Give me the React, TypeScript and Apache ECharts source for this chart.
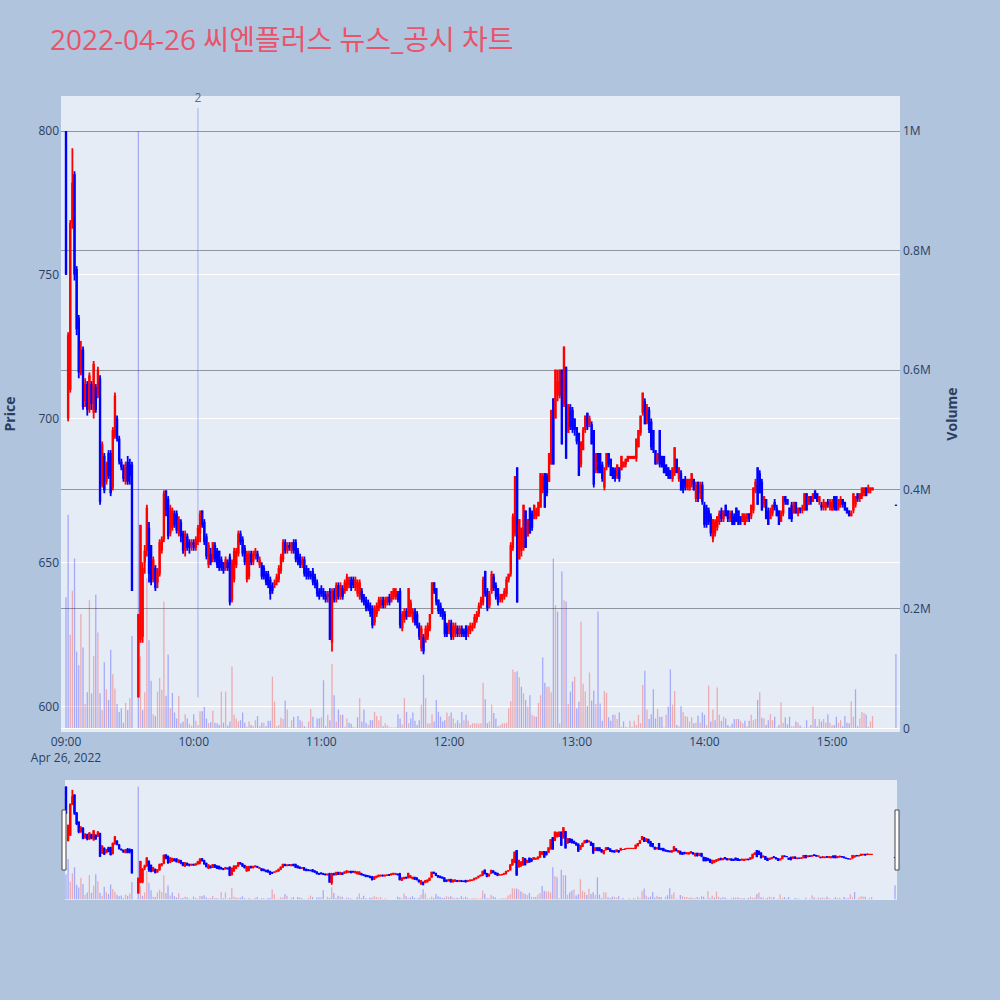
import React, { useEffect, useRef } from 'react';
import * as echarts from 'echarts';

// One-minute candles per trading hour: [open, close, low, high]; null = no trade that minute
type Candle = [number, number, number, number] | null;

const candles0900: Candle[] = [
  [800, 750, 750, 800], [700, 729, 699, 730], [710, 768, 709, 769], [768, 782, 766, 794], [785, 750, 748, 786],
  [752, 731, 729, 753], [735, 716, 714, 736], [716, 724, 715, 727], [724, 704, 703, 725], [706, 712, 704, 714],
  [712, 703, 701, 713], [703, 715, 702, 716], [712, 705, 703, 713], [702, 719, 700, 720], [711, 703, 702, 712],
  [708, 717, 707, 718], [714, 671, 670, 715], [677, 691, 676, 692], [687, 675, 674, 688], [678, 684, 677, 685],
  [688, 680, 679, 689], [688, 674, 673, 689], [676, 696, 675, 697], [694, 708, 693, 709], [700, 693, 692, 701],
  [693, 685, 684, 694], [685, 683, 682, 686], [683, 679, 678, 684], [678, 684, 677, 685], [685, 678, 677, 687],
  [684, 680, 677, 686], [684, 640, 640, 685], null, null, [603, 632, 603, 632],
  [623, 663, 622, 663], [624, 648, 622, 650], [650, 654, 646, 656], [654, 669, 652, 670], [662, 646, 643, 664],
  [656, 643, 642, 656], [644, 651, 643, 652], [648, 641, 640, 649], [643, 647, 641, 648], [646, 657, 645, 658],
  [654, 658, 653, 659], [658, 674, 657, 675], [675, 668, 666, 675], [672, 659, 658, 673], [660, 669, 659, 670],
  [662, 668, 661, 669], [667, 663, 662, 668], [667, 661, 660, 668], [660, 665, 659, 666], [664, 659, 657, 665],
  [660, 654, 653, 661], [654, 660, 652, 661], [659, 655, 654, 660], [657, 655, 653, 658], [656, 657, 654, 658],
];

const candles1000: Candle[] = [
  [657, 655, 654, 658], [655, 658, 654, 659], [657, 662, 656, 663], [660, 667, 657, 668], [668, 663, 662, 668],
  [664, 657, 656, 665], [659, 652, 651, 660], [649, 656, 648, 657], [653, 650, 649, 655], [651, 657, 650, 657],
  [656, 651, 650, 657], [654, 649, 648, 655], [654, 648, 647, 654], [651, 648, 647, 652], [650, 647, 646, 650],
  [648, 651, 647, 652], [650, 648, 647, 651], [652, 636, 635, 653], [637, 650, 636, 651], [644, 654, 643, 655],
  [649, 654, 648, 655], [653, 660, 652, 661], [660, 657, 656, 661], [658, 653, 652, 659], [655, 650, 649, 656],
  [644, 653, 643, 654], [645, 653, 644, 654], [653, 650, 649, 654], [650, 653, 649, 654], [652, 654, 651, 655],
  [653, 651, 650, 654], [649, 651, 648, 652], [649, 645, 644, 650], [648, 645, 644, 649], [646, 643, 642, 647],
  [646, 642, 641, 647], [644, 639, 637, 645], [642, 640, 639, 643], [642, 643, 641, 644], [643, 645, 642, 646],
  [644, 648, 643, 649], [647, 652, 646, 653], [651, 657, 650, 658], [657, 654, 653, 658], [654, 656, 653, 657],
  [656, 655, 654, 657], [654, 657, 653, 657], [657, 654, 653, 658], [657, 651, 650, 658], [654, 650, 649, 655],
  [652, 649, 648, 653], [649, 651, 648, 652], [651, 646, 645, 652], [648, 645, 644, 649], [647, 645, 644, 648],
  [646, 645, 644, 647], [647, 643, 642, 648], [645, 642, 641, 646], [643, 639, 638, 644], [640, 638, 637, 641],
];

const candles1100: Candle[] = [
  [641, 639, 638, 642], [640, 638, 637, 641], [639, 637, 636, 640], [638, 639, 636, 640], [640, 623, 623, 641],
  [622, 640, 619, 641], [640, 637, 636, 641], [637, 642, 636, 643], [642, 638, 637, 643], [638, 642, 637, 643],
  [641, 638, 637, 642], [640, 643, 639, 644], [641, 645, 640, 646], [642, 644, 641, 645], [644, 641, 640, 645],
  [644, 642, 641, 645], [641, 644, 640, 645], [639, 643, 638, 644], [638, 643, 637, 644], [640, 637, 636, 641],
  [638, 636, 635, 639], [637, 634, 633, 638], [636, 634, 633, 637], [635, 632, 631, 636], [634, 628, 627, 635],
  [629, 634, 628, 635], [632, 635, 631, 636], [634, 637, 633, 638], [635, 637, 634, 638], [637, 635, 634, 638],
  [635, 637, 634, 638], [636, 638, 635, 638], [638, 636, 635, 639], [637, 640, 636, 640], [638, 641, 637, 641],
  [638, 640, 637, 641], [639, 637, 636, 640], [640, 628, 627, 641], [627, 632, 626, 633], [630, 633, 629, 634],
  [633, 631, 630, 634], [631, 641, 631, 641], [632, 636, 631, 637], [630, 633, 629, 634], [633, 629, 628, 634],
  [632, 628, 627, 633], [628, 624, 623, 629], [620, 627, 619, 628], [624, 619, 618, 625], [623, 627, 622, 628],
  [624, 628, 623, 629], [627, 632, 626, 632], [632, 643, 632, 643], [643, 640, 639, 643], [641, 636, 635, 641],
  [637, 633, 632, 637], [635, 632, 631, 636], [634, 631, 630, 634], [632, 625, 624, 633], [628, 625, 624, 629],
];

const candles1200: Candle[] = [
  [626, 629, 625, 630], [629, 624, 623, 630], [624, 628, 623, 629], [625, 628, 624, 629], [627, 625, 624, 628],
  [625, 627, 624, 628], [627, 625, 624, 628], [626, 625, 624, 627], [628, 624, 623, 628], [625, 627, 624, 628],
  [626, 628, 625, 629], [627, 628, 626, 629], [628, 631, 627, 632], [630, 632, 629, 633], [632, 635, 631, 636],
  [635, 637, 634, 638], [636, 644, 635, 645], [647, 639, 638, 647], [640, 634, 633, 641], [635, 639, 634, 640],
  [640, 646, 639, 647], [645, 641, 640, 646], [642, 638, 637, 643], [641, 636, 635, 641], [637, 638, 636, 639],
  [637, 639, 636, 639], [638, 640, 637, 641], [639, 644, 638, 645], [644, 646, 643, 646], [646, 656, 645, 657],
  [655, 666, 654, 667], [660, 680, 659, 680], [683, 636, 636, 683], [651, 665, 651, 665], [654, 662, 652, 662],
  [655, 670, 654, 670], [668, 655, 655, 668], [659, 665, 659, 665], [669, 660, 660, 669], [667, 662, 661, 668],
  [665, 670, 665, 670], [666, 668, 665, 669], [666, 671, 666, 671], [669, 681, 669, 681], [675, 680, 674, 681],
  [681, 669, 669, 681], [680, 674, 673, 681], [678, 688, 678, 688], [684, 703, 684, 703], [707, 684, 684, 707],
  [700, 717, 700, 717], [708, 713, 706, 717], [708, 717, 707, 717], [717, 691, 691, 717], [705, 725, 704, 725],
  [718, 686, 686, 718], [695, 705, 695, 705], [704, 697, 696, 705], [703, 696, 695, 704], [700, 696, 694, 700],
];

const candles1300: Candle[] = [
  [697, 692, 691, 697], [695, 680, 680, 695], [684, 692, 683, 692], [689, 696, 689, 697], [696, 701, 695, 701],
  [702, 697, 696, 702], [698, 700, 697, 701], [698, 691, 691, 699], [696, 677, 676, 696], [682, 688, 681, 688],
  [688, 682, 681, 688], [688, 681, 681, 688], [684, 679, 678, 685], [676, 683, 675, 683], [683, 688, 682, 688],
  [688, 684, 683, 688], [686, 680, 680, 686], [683, 679, 679, 683], [682, 679, 678, 683], [680, 684, 679, 684],
  [683, 679, 678, 683], [682, 687, 682, 687], [683, 685, 683, 685], [684, 686, 683, 686], [685, 687, 685, 687],
  [686, 687, 686, 687], [686, 687, 686, 687], [686, 687, 686, 687], [686, 693, 685, 693], [690, 696, 690, 696],
  [695, 701, 694, 701], [702, 709, 701, 709], [706, 698, 698, 707], [699, 704, 698, 705], [703, 696, 695, 704],
  [699, 690, 689, 700], [696, 689, 688, 696], [689, 684, 684, 689], [685, 688, 684, 688], [696, 684, 683, 696],
  [687, 683, 683, 687], [687, 681, 681, 687], [684, 681, 680, 684], [683, 680, 679, 683], [682, 679, 679, 682],
  [679, 683, 678, 683], [681, 690, 680, 690], [686, 681, 681, 686], [679, 683, 678, 683], [681, 675, 675, 682],
  [679, 675, 674, 679], [679, 676, 675, 680], [676, 679, 675, 679], [675, 679, 675, 679], [677, 681, 676, 681],
  [679, 675, 675, 679], [672, 677, 671, 678], [678, 672, 671, 678], [674, 677, 672, 678], [677, 671, 670, 678],
];

const candles1400: Candle[] = [
  [670, 663, 662, 671], [669, 663, 662, 670], [668, 664, 663, 669], [666, 660, 659, 667], [658, 665, 657, 665],
  [660, 664, 659, 665], [662, 666, 661, 666], [664, 667, 663, 668], [668, 665, 664, 669], [665, 668, 664, 668],
  [670, 666, 666, 670], [668, 665, 664, 668], [665, 667, 664, 668], [667, 664, 663, 668], [666, 663, 663, 667],
  [669, 664, 664, 669], [668, 663, 663, 668], [666, 664, 663, 666], [664, 667, 664, 667], [663, 666, 663, 667],
  [665, 667, 664, 667], [667, 665, 664, 667], [666, 670, 665, 670], [668, 676, 667, 676], [675, 678, 674, 679],
  [683, 670, 670, 683], [681, 674, 674, 682], [678, 668, 668, 679], [670, 673, 669, 673], [672, 665, 665, 672],
  [668, 663, 663, 669], [665, 668, 665, 669], [667, 670, 666, 670], [671, 669, 668, 672], [669, 666, 666, 670],
  [668, 663, 663, 668], [664, 667, 664, 668], [667, 673, 666, 673], [673, 671, 670, 673], [672, 670, 670, 672],
  [669, 665, 665, 669], [670, 665, 664, 671], [667, 671, 667, 671], [671, 667, 667, 671], [667, 669, 666, 669],
  [669, 668, 667, 669], [668, 669, 667, 670], [668, 674, 668, 674], [674, 668, 668, 674], [670, 673, 670, 673],
  [673, 671, 670, 673], [671, 674, 671, 674], [675, 672, 672, 675], [674, 671, 671, 674], [671, 673, 670, 673],
  [670, 669, 668, 671], [669, 671, 668, 672], [669, 671, 668, 671], [671, 670, 669, 672], [669, 671, 668, 672],
];

const candles1500: Candle[] = [
  [668, 671, 668, 672], [673, 669, 668, 673], [673, 668, 668, 673], [669, 672, 668, 672], [670, 672, 669, 673],
  [672, 670, 669, 672], [671, 668, 668, 671], [669, 667, 667, 669], [668, 666, 666, 668], [666, 667, 666, 668],
  [668, 674, 667, 674], [670, 673, 669, 673], [674, 672, 671, 674], [672, 674, 671, 674], [673, 676, 672, 676],
  [674, 676, 673, 676], [676, 673, 673, 676], [674, 676, 674, 677], [675, 676, 674, 676], [675, 676, 675, 676],
  null, null, null, null, null, null, null, null, null, null,
  [670, 670, 670, 670],
];

// Traded volume per minute, in thousand shares
const volume0900: (number | null)[] = [
  219, 357, 156, 230, 284, 128, 105, 191, 135, 40, 60, 214, 58, 121, 223, 160, 58, 30, 110, 65,
  47, 131, 90, 66, 40, 27, 33, 9, 42, 30, 50, 154, null, null, 1000, 120, 30, 60, 251, 147,
  79, 23, 20, 61, 84, 64, 212, 54, 123, 33, 59, 26, 16, 54, 8, 11, 23, 16, 7, 4,
];
const volume1000: (number | null)[] = [
  23, 12, 5, 28, 28, 35, 16, 8, 10, 29, 9, 8, 5, 61, 9, 61, 4, 11, 103, 22,
  16, 11, 13, 26, 9, 2, 11, 5, 3, 13, 20, 3, 9, 9, 3, 12, 12, 86, 44, 3,
  5, 17, 15, 46, 31, 1, 13, 19, 1, 20, 13, 11, 3, 1, 11, 32, 19, 1, 16, 16,
];
const volume1100: (number | null)[] = [
  18, 80, 3, 22, 13, 107, 55, 11, 31, 22, 22, 2, 16, 9, 7, 2, 1, 18, 50, 11,
  31, 9, 5, 13, 13, 27, 20, 13, 20, 3, 8, 4, 1, 1, 1, 1, 23, 16, 6, 50,
  27, 8, 16, 26, 12, 5, 13, 39, 89, 50, 8, 8, 23, 11, 47, 27, 19, 11, 13, 26,
];
const volume1200: (number | null)[] = [
  20, 26, 16, 8, 13, 8, 27, 13, 22, 12, 5, 8, 8, 8, 7, 8, 76, 48, 8, 11,
  39, 25, 16, 3, 5, 8, 8, 9, 33, 45, 98, 94, 95, 85, 69, 58, 47, 36, 55, 22,
  20, 19, 42, 55, 118, 76, 69, 69, 60, 284, 206, 195, 8, 262, 214, 212, 40, 61, 78, 86,
];
const volume1300: (number | null)[] = [
  33, 44, 178, 74, 61, 37, 93, 46, 63, 40, 195, 41, 12, 62, 59, 18, 12, 22, 22, 15,
  26, 2, 11, 2, 1, 12, 2, 12, 5, 22, 8, 72, 96, 31, 15, 23, 65, 16, 32, 19,
  19, 1, 22, 36, 98, 39, 62, 5, 3, 37, 27, 20, 19, 11, 18, 8, 9, 21, 9, 26,
];
const volume1400: (number | null)[] = [
  22, 5, 71, 11, 31, 13, 68, 22, 12, 19, 16, 5, 3, 7, 15, 15, 15, 12, 8, 12,
  3, 12, 22, 13, 15, 47, 60, 17, 16, 5, 13, 23, 13, 19, 1, 5, 43, 9, 18, 6,
  19, 3, 3, 11, 9, 4, 1, 1, 13, 1, 5, 36, 15, 3, 15, 11, 15, 9, 23, 9,
];
const volume1500: (number | null)[] = [
  4, 5, 19, 9, 13, 3, 20, 9, 8, 45, 19, 65, 3, 16, 27, 25, 22, 2, 11, 20,
  null, null, null, null, null, null, null, null, null, null,
  124,
];

const candleHours = [candles0900, candles1000, candles1100, candles1200, candles1300, candles1400, candles1500];
const volumeHours = [volume0900, volume1000, volume1100, volume1200, volume1300, volume1400, volume1500];

// Axis ticks: minutes after 09:00, price in won, volume in thousand shares
const hourTicks = [0, 60, 120, 180, 240, 300, 360];
const priceTicks = [600, 650, 700, 750, 800];
const volumeTicks = [0, 200, 400, 600, 800, 1000];
const sessionDateLabel = 'Apr 26, 2022';
const chartTitle = '2022-04-26 씨엔플러스 뉴스_공시 차트';

// News/disclosure marker: minute after 09:00, its label, and the price span of its stem
const newsMinutes = [62];
const newsLabels = ['2'];
const newsStemPrices = [603, 808];

const UP = '#FF0000';
const DOWN = '#0000FF';
const VOL_UP = 'rgba(255,0,0,0.28)';
const VOL_DOWN = 'rgba(0,0,255,0.28)';
const FONT = '"Open Sans", "Noto Sans CJK KR", sans-serif';
const TICK_COLOR = '#2a3f5f';

const pad = (n: number) => String(n).padStart(2, '0');

function buildSeriesData() {
  // candle rows: [minute, open, close, low, high, up(1)/down(0) versus previous close]
  const candleData: number[][] = [];
  const volumeData: any[] = [];
  let prevClose: number | null = null;
  candleHours.forEach((rows, h) => {
    rows.forEach((row, i) => {
      const minute = h * 60 + i;
      const vol = volumeHours[h][i];
      if (!row) return;
      const [o, c, l, hi] = row;
      const up = prevClose === null ? c >= o : c >= prevClose;
      candleData.push([minute, o, c, l, hi, up ? 1 : 0]);
      if (vol != null) {
        volumeData.push({ value: [minute, vol], itemStyle: { color: up ? VOL_UP : VOL_DOWN } });
      }
      prevClose = c;
    });
  });
  return { candleData, volumeData };
}

// Candle drawn as a wick from low to high plus a slightly wider body from open to close
function renderCandle(bodyWidth: number, wickWidth: number) {
  return (_params: any, api: any) => {
    const x = api.value(0);
    const o = api.value(1);
    const c = api.value(2);
    const l = api.value(3);
    const h = api.value(4);
    const color = c > o ? UP : c < o ? DOWN : api.value(5) ? UP : DOWN;
    const pLow = api.coord([x, l]);
    const pHigh = api.coord([x, h]);
    const pOpen = api.coord([x, o]);
    const pClose = api.coord([x, c]);
    const top = Math.min(pOpen[1], pClose[1]);
    const bodyH = Math.max(Math.abs(pOpen[1] - pClose[1]), 1);
    return {
      type: 'group',
      children: [
        {
          type: 'rect',
          shape: { x: pLow[0] - wickWidth / 2, y: pHigh[1], width: wickWidth, height: Math.max(pLow[1] - pHigh[1], 1) },
          style: { fill: color },
        },
        {
          type: 'rect',
          shape: { x: pOpen[0] - bodyWidth / 2, y: top, width: bodyWidth, height: bodyH },
          style: { fill: color },
        },
      ],
    };
  };
}

export default function App() {
  const ref = useRef<HTMLDivElement>(null);

  useEffect(() => {
    if (!ref.current) return;
    const chart = echarts.init(ref.current, undefined, { renderer: 'svg' });
    const { candleData, volumeData } = buildSeriesData();

    const newsStems: any[] = [];
    const newsTips: any[] = [];
    newsMinutes.forEach((m, i) => {
      if (i > 0) newsStems.push([null, null]);
      newsStems.push([m, newsStemPrices[0]]);
      newsStems.push([m, newsStemPrices[1]]);
      newsTips.push({ value: [m, newsStemPrices[1]], name: newsLabels[i] });
    });

    chart.setOption({
      animation: false,
      backgroundColor: '#B0C4DE',
      title: {
        text: chartTitle,
        left: 50,
        top: 25,
        padding: 0,
        textStyle: { color: '#E9546B', fontSize: 28, fontWeight: 'normal', fontFamily: FONT },
      },
      grid: [
        { left: 61, top: 96, width: 839, height: 636, show: true, backgroundColor: '#E5ECF6', borderWidth: 0, outerBoundsMode: 'none', containLabel: false },
        { left: 65, top: 780, width: 832, height: 120, show: true, backgroundColor: '#E5ECF6', borderWidth: 0, outerBoundsMode: 'none', containLabel: false },
      ],
      xAxis: [
        {
          type: 'value',
          gridIndex: 0,
          min: -2.35,
          max: 391.9,
          axisLine: { show: false },
          axisTick: { show: false, customValues: hourTicks },
          splitLine: { show: false },
          axisLabel: {
            customValues: hourTicks,
            color: TICK_COLOR,
            fontSize: 12,
            fontFamily: FONT,
            margin: 1,
            lineHeight: 16,
            formatter: (v: number) => {
              const t = `${pad(9 + Math.floor(v / 60))}:${pad(v % 60)}`;
              return v === hourTicks[0] ? `${t}\n${sessionDateLabel}` : t;
            },
          },
        },
        {
          type: 'value',
          gridIndex: 1,
          min: -0.47,
          max: 390.94,
          show: false,
        },
      ],
      yAxis: [
        {
          type: 'value',
          gridIndex: 0,
          position: 'left',
          min: 590.96,
          max: 812.17,
          name: 'Price',
          nameLocation: 'middle',
          nameGap: 45,
          nameRotate: 90,
          nameTextStyle: { color: TICK_COLOR, fontSize: 14, fontWeight: 'bold', fontFamily: FONT },
          axisLine: { show: false },
          axisTick: { show: false, customValues: priceTicks },
          axisLabel: { customValues: priceTicks, color: TICK_COLOR, fontSize: 12, fontFamily: FONT, margin: 2 },
          splitLine: { show: true, lineStyle: { color: '#FFFFFF', width: 1 } },
        },
        {
          type: 'value',
          gridIndex: 0,
          position: 'right',
          min: -6.7,
          max: 1058.6,
          name: 'Volume',
          nameLocation: 'middle',
          nameGap: 44,
          nameRotate: 90,
          nameTextStyle: { color: TICK_COLOR, fontSize: 14, fontWeight: 'bold', fontFamily: FONT },
          axisLine: { show: false },
          axisTick: { show: false, customValues: volumeTicks },
          axisLabel: {
            customValues: volumeTicks,
            color: TICK_COLOR,
            fontSize: 12,
            fontFamily: FONT,
            margin: 3,
            formatter: (v: number) => (v === 0 ? '0' : v === 1000 ? '1M' : `${v / 1000}M`),
          },
          splitLine: {
            show: true,
            lineStyle: { color: ['#FFFFFF', '#8f959c', '#8f959c', '#8f959c', '#8f959c', '#8f959c'], width: 1 },
          },
        },
        { type: 'value', gridIndex: 1, min: 590.96, max: 812.17, show: false },
        { type: 'value', gridIndex: 1, min: -6.7, max: 1058.6, show: false },
      ],
      series: [
        {
          type: 'bar',
          name: 'volume',
          xAxisIndex: 0,
          yAxisIndex: 1,
          barWidth: 1.3,
          data: volumeData,
          z: 1,
        },
        {
          type: 'custom',
          name: 'price',
          xAxisIndex: 0,
          yAxisIndex: 0,
          renderItem: renderCandle(2.4, 1.8),
          encode: { x: 0, y: [1, 2, 3, 4] },
          data: candleData,
          z: 3,
        },
        {
          type: 'line',
          name: 'news',
          xAxisIndex: 0,
          yAxisIndex: 0,
          symbol: 'none',
          connectNulls: false,
          lineStyle: { color: 'rgba(80,100,255,0.45)', width: 1 },
          data: newsStems,
          z: 2,
          silent: true,
        },
        {
          type: 'scatter',
          name: 'news-label',
          xAxisIndex: 0,
          yAxisIndex: 0,
          symbolSize: 1,
          itemStyle: { color: 'rgba(0,0,0,0)' },
          label: {
            show: true,
            position: 'top',
            distance: 4,
            formatter: (p: any) => p.name,
            color: '#444',
            fontSize: 12,
            fontFamily: FONT,
          },
          data: newsTips,
          z: 4,
          silent: true,
        },
        {
          type: 'bar',
          name: 'volume-overview',
          xAxisIndex: 1,
          yAxisIndex: 3,
          barWidth: 1.3,
          data: volumeData,
          z: 1,
        },
        {
          type: 'custom',
          name: 'price-overview',
          xAxisIndex: 1,
          yAxisIndex: 2,
          renderItem: renderCandle(2.4, 1.8),
          encode: { x: 0, y: [1, 2, 3, 4] },
          data: candleData,
          z: 3,
        },
      ],
      graphic: [
        { type: 'rect', shape: { x: 62, y: 810, width: 4, height: 60 }, style: { fill: '#FFFFFF', stroke: '#444', lineWidth: 1 }, z: 10 },
        { type: 'rect', shape: { x: 895, y: 810, width: 4, height: 60 }, style: { fill: '#FFFFFF', stroke: '#444', lineWidth: 1 }, z: 10 },
      ],
    });

    return () => chart.dispose();
  }, []);

  return (
    <div
      ref={ref}
      style={{ position: 'fixed', left: 0, top: 0, width: 1000, height: 1000 }}
    />
  );
}
